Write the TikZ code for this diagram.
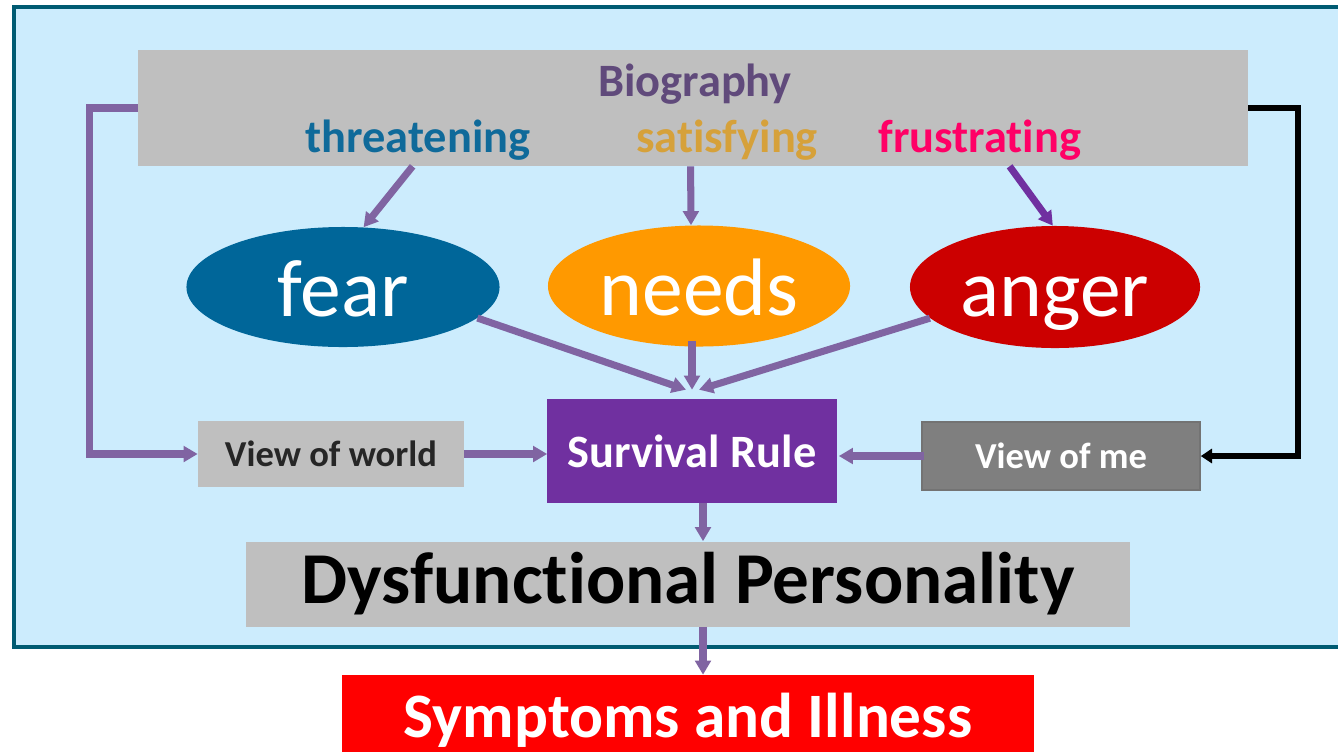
\documentclass[tikz,border=0pt]{standalone}
\usepackage{fontspec}
\setmainfont{Carlito}[Ligatures=NoCommon]
\usetikzlibrary{arrows.meta,positioning,shapes.geometric,calc}
\definecolor{Frame}{HTML}{005B72}
\definecolor{Sky}{HTML}{CCECFD}
\definecolor{Grey}{HTML}{BFBFBF}
\definecolor{DarkGrey}{HTML}{7F7F7F}
\definecolor{Arrow}{HTML}{8064A2}
\definecolor{Violet}{HTML}{7030A0}
\definecolor{BioText}{HTML}{604A7B}
\definecolor{Threat}{HTML}{0F6A9A}
\definecolor{Satis}{HTML}{D6A13A}
\definecolor{Frust}{HTML}{FF0066}
\definecolor{Fear}{HTML}{006699}
\definecolor{Needs}{HTML}{FF9900}
\definecolor{Anger}{HTML}{CC0000}

\begin{document}
\begin{tikzpicture}[
    x=0.025cm,y=-0.025cm,
    box/.style={rectangle,inner sep=0pt,align=center,font=\bfseries},
    emo/.style={ellipse,inner sep=0pt,text=white,text height=42pt,text depth=0pt,
      font=\fontsize{58}{60}\selectfont},
    word/.style={anchor=base,font=\fontsize{33}{36}\selectfont\bfseries},
    arr/.style={-{Triangle[length=10pt,width=11pt]},Arrow,line width=5pt},
    backarr/.style={-{Triangle[length=8pt,width=10pt]},black,line width=4.2pt}
  ]
    \useasboundingbox (0,0) rectangle (1338,751);
    \draw[Frame,line width=3pt,fill=Sky] (14,7) rectangle (1420,647);

    \node[box,fill=Grey,minimum width=27.75cm,minimum height=2.9cm] (bio) at (693,108) {};
    \node[word,text=BioText] (biotitle) at (695,96) {Biography};
    \node[word,text=Threat] (threat) at (418,152) {threatening};
    \node[word,text=Satis] (satis) at (727,152) {satisfying};
    \node[word,text=Frust] (frust) at (980,152) {frustrating};

    \node[emo,fill=Fear,minimum width=7.825cm,minimum height=3cm] (fear) at (343,287) {fear};
    \node[emo,fill=Needs,minimum width=7.55cm,minimum height=3.025cm] (needs) at (699,286) {needs};
    \node[emo,fill=Anger,minimum width=7.25cm,minimum height=3.05cm] (anger) at (1055,287) {anger};

    \node[box,fill=Violet,text=white,minimum width=7.225cm,minimum height=2.6cm,
      font=\fontsize{33}{36}\selectfont\bfseries] (rule) at (692,451) {Survival Rule};
    \node[box,fill=Grey,text=black!85,minimum width=6.65cm,minimum height=1.65cm,
      font=\fontsize{26}{28}\selectfont\bfseries] (world) at (331,454) {View of world};
    \node[box,fill=DarkGrey,draw=black!55,line width=1pt,text=white,minimum width=6.95cm,
      minimum height=1.7cm,font=\fontsize{26}{28}\selectfont\bfseries] (me) at (1061,456) {View of me};
    \node[box,fill=Grey,minimum width=22.075cm,minimum height=2.125cm,
      font=\fontsize{52}{56}\selectfont\bfseries] (dysf) at (688,584) {Dysfunctional Personality};
    \node[box,fill=red,text=white,minimum width=17.275cm,minimum height=2.25cm,
      font=\fontsize{45}{48}\selectfont\bfseries] (illness) at (688,720) {Symptoms and Illness};

    \coordinate (t-threat) at ($(bio.south west)+(275,0)$);
    \coordinate (t-satis) at ($(bio.south west)+(553,0)$);
    \coordinate (t-frust) at ($(bio.south west)+(872,0)$);
    \coordinate (hub) at ($(rule.north)+(0,-9)$);

    % biography into the three feelings
    \draw[arr] (t-threat) -- (fear.71);
    \draw[arr] (t-satis) -- ($(needs.north)+(-8,0)$);
    \draw[arr,Violet] (t-frust) -- (anger.92);
    % feelings into the rule
    \draw[arr] (fear.-13) -- ($(hub)+(-6,0)$);
    \draw[arr] ($(needs.south)+(-7,-6)$) -- (hub);
    \draw[arr] (anger.194) -- ($(hub)+(7,0)$);
    % side loops
    \draw[arr] (bio.west) -- ++(-48,0) |- (world.west);
    \draw[backarr] (bio.east) -- ++(50,0) |- (me.east);
    \draw[arr] (world.east) -- (world.east -| rule.west);
    \draw[arr] ($(me.west)+(3,0)$) -- ($(me.west -| rule.east)+(2,0)$);
    % down to the outcome
    \draw[arr] ($(rule.south)+(11,0)$) -- ($(rule.south |- dysf.north)+(11,0)$);
    \draw[arr] ($(dysf.south)+(15,0)$) -- ($(dysf.south |- illness.north)+(15,0)$);
  \end{tikzpicture}
\end{document}
